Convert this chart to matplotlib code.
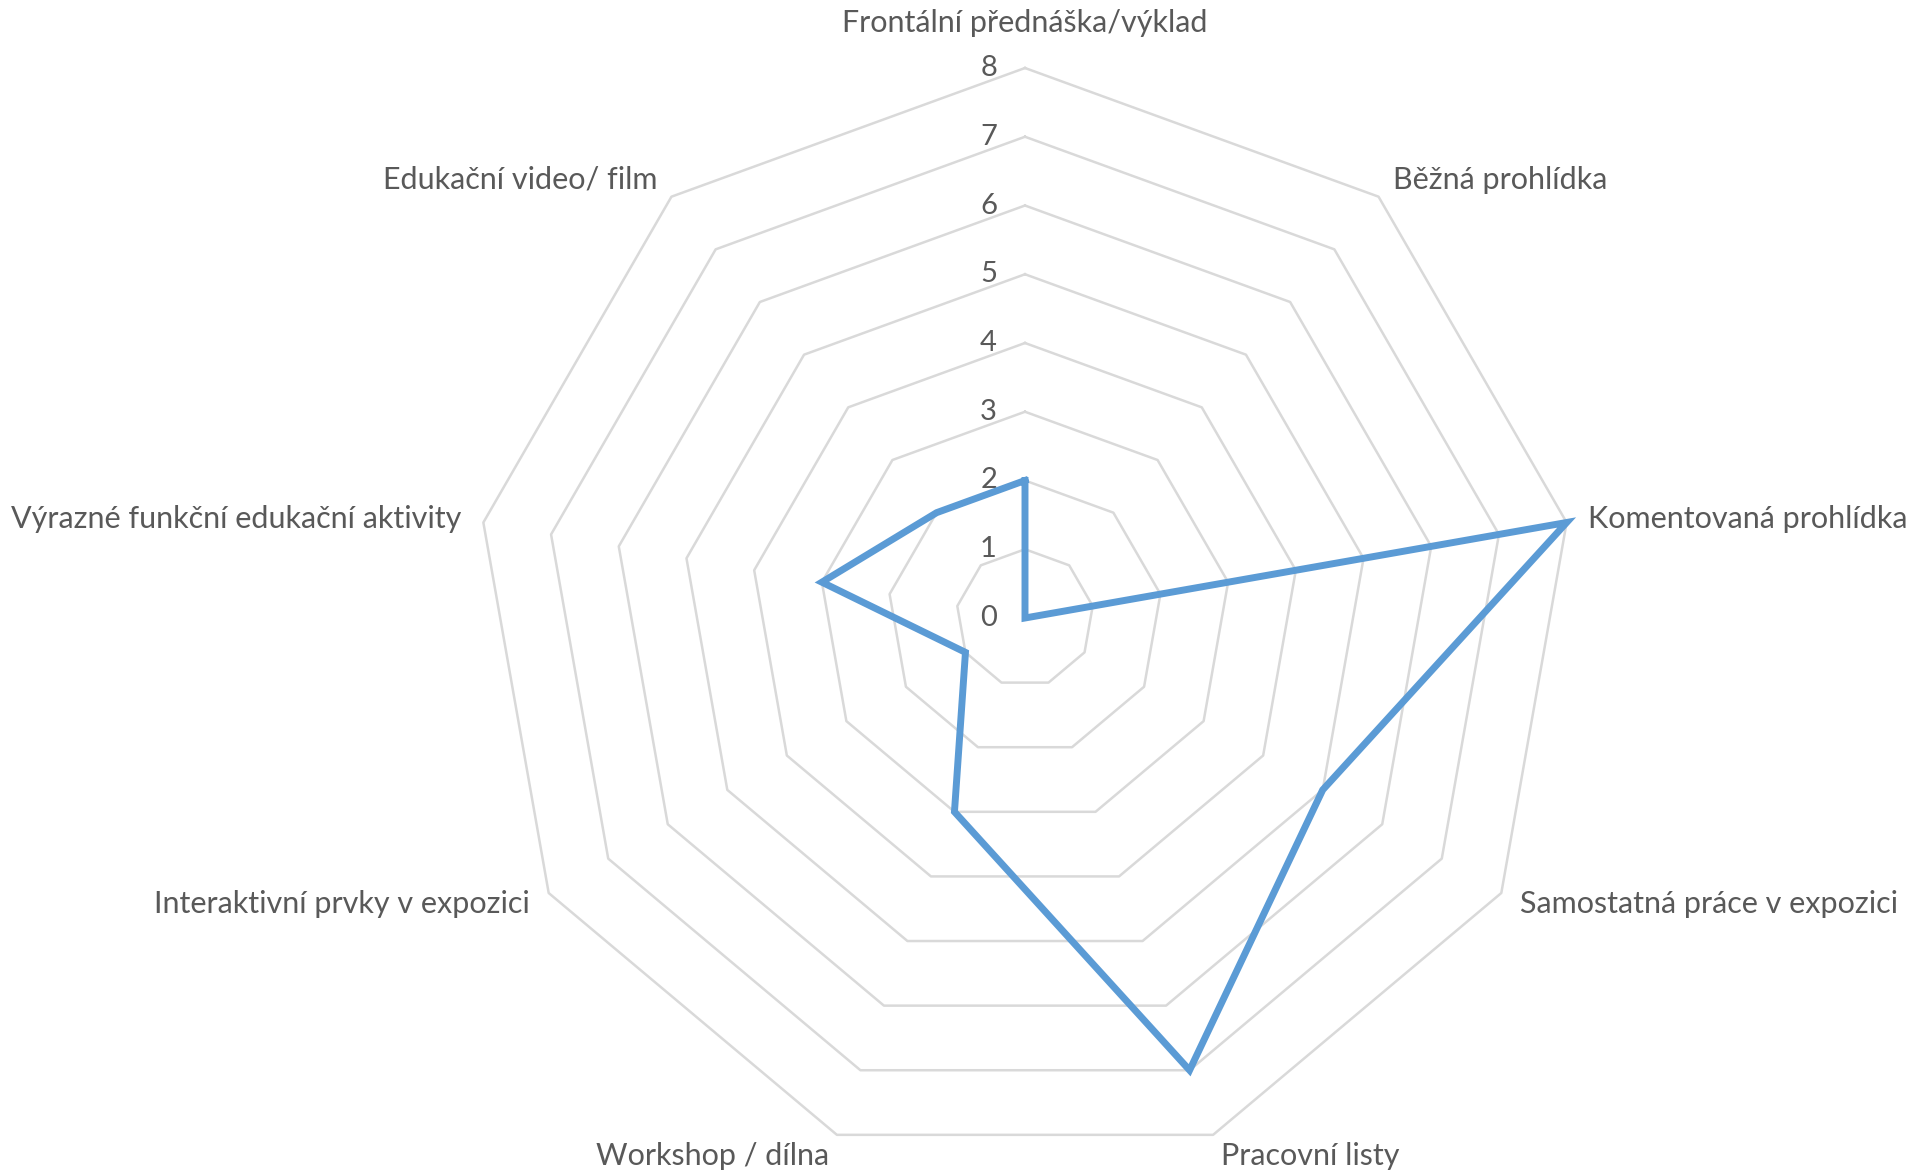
import numpy as np
import matplotlib.pyplot as plt

categories = ["Frontální přednáška/výklad", "Běžná prohlídka", "Komentovaná prohlídka",
              "Samostatná práce v expozici", "Pracovní listy", "Workshop / dílna",
              "Interaktivní prvky v expozici", "Výrazné funkční edukační aktivity",
              "Edukační video/ film"]
values = [2, 0, 8, 5, 7, 3, 1, 3, 2]
ticks = [0, 1, 2, 3, 4, 5, 6, 7, 8]

plt.rcParams['font.family'] = ['Lato', 'DejaVu Sans']
txt_col = '#595959'
grid_col = '#d9d9d9'
line_col = '#5b9bd5'

n = len(categories)
ang = np.arange(n) * 2 * np.pi / n   # clockwise from top
sx, cy = np.sin(ang), np.cos(ang)

fig = plt.figure(figsize=(19.26, 11.71), dpi=100)
ax = fig.add_axes([0, 0, 1, 1])
scale = 550 / 8.0   # px per unit
ax.set_xlim(-1025 / scale, (1926 - 1025) / scale)
ax.set_ylim(-(1171 - 618) / scale, 618 / scale)
ax.axis('off')

# polygon grid
for t in ticks[1:]:
    ax.plot(np.append(t * sx, t * sx[0]), np.append(t * cy, t * cy[0]),
            color=grid_col, lw=1.8, zorder=1)

# tick labels along the top axis
for t in ticks:
    ax.annotate(str(t), xy=(0, t), xytext=(-28, 0), textcoords='offset pixels',
                ha='right', va='center', fontsize=21, color=txt_col)

# data
v = np.array(values, dtype=float)
ax.plot(np.append(v * sx, v[0] * sx[0]), np.append(v * cy, v[0] * cy[0]),
        color=line_col, lw=5, solid_joinstyle='miter', zorder=3)

# category labels
rmax = ticks[-1]
for i, lab in enumerate(categories):
    s, c = sx[i], cy[i]
    if abs(s) < 1e-6:
        ha = 'center'
        off = (0, 45 if c > 0 else -45)
    else:
        ha = 'left' if s > 0 else 'right'
        off = (22 * s, 22 * c)
    ax.annotate(lab, xy=(rmax * s, rmax * c), xytext=off, textcoords='offset pixels',
                ha=ha, va='center', fontsize=22, color=txt_col)

fig.savefig('out.png', dpi=100)
